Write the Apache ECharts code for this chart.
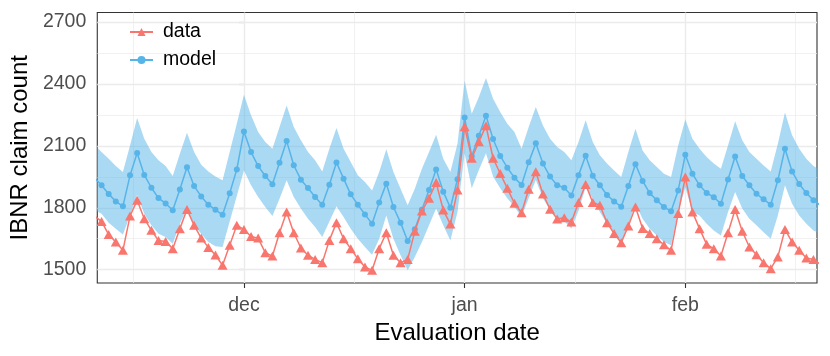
<!DOCTYPE html>
<html>
<head>
<meta charset="utf-8">
<script src="https://cdn.jsdelivr.net/npm/echarts@6/dist/echarts.min.js"></script>
<style>
html, body { margin: 0; padding: 0; background: #fff; }
#grafico { width: 830px; height: 356px; }
</style>
</head>
<body>
<div id="grafico"></div>
<script>
// dias contados a partir de 1 dez; primeiro ponto = 10 nov
var firstDay = -21;

var xTicks = [0, 31, 62];
var xLabels = ['dec', 'jan', 'feb'];
var xMinor = [-15.5, 15.5, 46.5, 77.5];
var yTicks = [1500, 1800, 2100, 2400, 2700];
var yMinor = [1650, 1950, 2250, 2550];

var dataValues = [
    1760, 1734, 1670, 1634, 1594, 1760, 1836, 1747, 1691, 1641, 1637, 1602, 1699, 1792, 1715, 1653, 1608, 1571, 1521, 1618, 1715,
    1695, 1661, 1653, 1582, 1566, 1679, 1779, 1679, 1605, 1570,
    1550, 1534, 1642, 1728, 1650, 1602, 1553, 1513, 1497, 1602,
    1679, 1570, 1534, 1550, 1686, 1784, 1846, 1922, 1789, 1721,
    1886, 2193, 2040, 2120, 2197, 2040, 1966, 1894, 1822, 1776,
    1890, 1975, 1867, 1793, 1746, 1752, 1731, 1826, 1913, 1826,
    1812, 1728, 1675, 1631, 1712, 1804, 1700, 1675, 1650, 1621,
    1594, 1772, 1949, 1780, 1699, 1623, 1602, 1566, 1679, 1792,
    1686, 1610, 1573, 1534, 1505, 1562, 1695, 1634, 1594, 1557,
    1550, 1525
];

var modelValues = [
    1945, 1909, 1867, 1831, 1807, 1957, 2065, 1959, 1897, 1847, 1821, 1788, 1889, 1996, 1905, 1855, 1815, 1790, 1766, 1870, 1986,
    2170, 2070, 2002, 1954, 1914, 2018, 2123, 2006, 1936, 1896,
    1852, 1815, 1912, 2019, 1941, 1865, 1815, 1768, 1723, 1826,
    1917, 1804, 1728, 1639, 1696, 1790, 1886, 1986, 1878, 1800,
    1938, 2237, 2050, 2149, 2246, 2133, 2051, 1994, 1946, 1910,
    2020, 2112, 2014, 1951, 1909, 1897, 1860, 1957, 2052, 1955,
    1909, 1862, 1831, 1805, 1905, 2011, 1930, 1871, 1836, 1804,
    1783, 1884, 2057, 1965, 1909, 1872, 1851, 1820, 1937, 2048,
    1954, 1909, 1868, 1841, 1815, 1933, 2086, 1976, 1915, 1872,
    1836, 1812
];

var upperValues = [
    2105, 2070, 2038, 2002, 1973, 2102, 2235, 2135, 2070, 2030, 2002, 1954, 2062, 2164, 2070, 2009, 1976, 1952, 1933, 2070, 2207,
    2348, 2248, 2167, 2119, 2086, 2191, 2296, 2191, 2127, 2070,
    2030, 1976, 2086, 2187, 2086, 2022, 1957, 1925, 1884, 1973,
    2083, 1973, 1892, 1812, 1892, 1989, 2070, 2154, 2038, 1973,
    2110, 2417, 2256, 2337, 2429, 2328, 2264, 2207, 2167, 2086,
    2191, 2288, 2199, 2135, 2094, 2070, 2030, 2119, 2224, 2119,
    2054, 2014, 1981, 1949, 2070, 2183, 2078, 2030, 1997, 1965,
    1949, 2102, 2228, 2135, 2086, 2046, 2014, 1989, 2102, 2219,
    2127, 2070, 2038, 2005, 1976, 2110, 2261, 2151, 2086, 2038,
    2002, 1981
];

var lowerValues = [
    1790, 1771, 1728, 1699, 1670, 1763, 1863, 1771, 1715, 1674, 1658, 1626, 1723, 1796, 1715, 1674, 1634, 1614, 1610, 1734, 1857,
    1981, 1909, 1852, 1804, 1760, 1844, 1933, 1852, 1796, 1747,
    1707, 1658, 1734, 1808, 1755, 1699, 1650, 1610, 1573, 1650,
    1763, 1650, 1570, 1497, 1562, 1634, 1715, 1796, 1715, 1642,
    1779, 2064, 1894, 1983, 2064, 1951, 1894, 1846, 1805, 1757,
    1846, 1935, 1846, 1789, 1749, 1735, 1700, 1785, 1900, 1844,
    1780, 1723, 1682, 1634, 1715, 1820, 1747, 1699, 1666, 1634,
    1618, 1780, 1900, 1780, 1763, 1723, 1690, 1666, 1780, 1876,
    1796, 1747, 1715, 1682, 1650, 1763, 1909, 1820, 1763, 1723,
    1690, 1674
];

var fonte = '"Liberation Sans", Arial, sans-serif';

function pares(valores) {
    return valores.map(function (v, i) { return [firstDay + i, v]; });
}

var gradeMaior = { color: '#EBEBEB', width: 1.4, type: 'solid' };
var gradeMenor = { color: '#EBEBEB', width: 0.7, type: 'solid' };
var linhasGrade = [];
xMinor.forEach(function (v) { linhasGrade.push({ xAxis: v, lineStyle: gradeMenor }); });
yMinor.forEach(function (v) { linhasGrade.push({ yAxis: v, lineStyle: gradeMenor }); });
xTicks.forEach(function (v) { linhasGrade.push({ xAxis: v, lineStyle: gradeMaior }); });
yTicks.forEach(function (v) { linhasGrade.push({ yAxis: v, lineStyle: gradeMaior }); });

// faixa do modelo: um poligono (superior ida, inferior volta)
function desenhaFaixa(params, api) {
    if (params.dataIndex !== 0) return;
    var pts = [];
    for (var i = 0; i < upperValues.length; i++)
        pts.push(api.coord([firstDay + i, upperValues[i]]));
    for (var j = lowerValues.length - 1; j >= 0; j--)
        pts.push(api.coord([firstDay + j, lowerValues[j]]));
    return {
        type: 'polygon',
        shape: { points: pts },
        style: { fill: 'rgba(86,180,233,0.5)', stroke: null }
    };
}

var myChart = echarts.init(document.getElementById('grafico'));

var option = {
    animation: false,
    backgroundColor: '#fff',
    grid: {
        left: 96.5, right: 13, top: 12.5, bottom: 73,
        show: true, borderColor: '#333333', borderWidth: 1.1
    },
    legend: {
        data: ['data', 'model'],
        orient: 'vertical',
        left: 124, top: 17,
        itemWidth: 23, itemHeight: 10, itemGap: 8,
        textStyle: { fontFamily: fonte, fontSize: 19.5, color: '#000', padding: [0, 0, 0, 5] }
    },
    xAxis: {
        type: 'value', min: -20.6, max: 80.5,
        name: 'Evaluation date', nameLocation: 'middle', nameGap: 36,
        nameTextStyle: { fontFamily: fonte, fontSize: 24, color: '#000' },
        axisLine: { show: false },
        axisTick: { show: true, length: 5, customValues: xTicks, lineStyle: { color: '#333', width: 1.1 } },
        axisLabel: {
            customValues: xTicks, margin: 13, fontFamily: fonte, fontSize: 19.5, color: '#4D4D4D',
            formatter: function (v) { return xLabels[xTicks.indexOf(v)]; }
        },
        splitLine: { show: false }
    },
    yAxis: {
        type: 'value', min: 1435.6, max: 2746,
        name: 'IBNR claim count', nameLocation: 'middle', nameGap: 59,
        nameTextStyle: { fontFamily: fonte, fontSize: 24, color: '#000' },
        axisLine: { show: false },
        axisTick: { show: true, length: 5, customValues: yTicks, lineStyle: { color: '#333', width: 1.1 } },
        axisLabel: {
            customValues: yTicks, margin: 11, fontFamily: fonte, fontSize: 19.5, color: '#4D4D4D',
            formatter: function (v) { return String(v); }
        },
        splitLine: { show: false }
    },
    series: [
        {
            name: 'grade', type: 'line', data: pares(lowerValues),
            symbol: 'none', lineStyle: { opacity: 0 }, silent: true, z: 1,
            markLine: { z: 1, silent: true, symbol: ['none', 'none'], label: { show: false }, data: linhasGrade }
        },
        {
            name: 'faixa', type: 'custom', data: pares(upperValues),
            encode: { x: 0, y: 1 }, renderItem: desenhaFaixa,
            clip: true, silent: true, z: 2
        },
        {
            name: 'model', type: 'line', data: pares(modelValues), z: 3,
            color: '#56B4E9', symbol: 'circle', symbolSize: 6,
            lineStyle: { width: 1.5 }
        },
        {
            name: 'data', type: 'line', data: pares(dataValues), z: 4,
            color: '#F8766D', symbol: 'triangle', symbolSize: [10, 9],
            lineStyle: { width: 1.5 }
        }
    ]
};

myChart.setOption(option);
</script>
</body>
</html>
